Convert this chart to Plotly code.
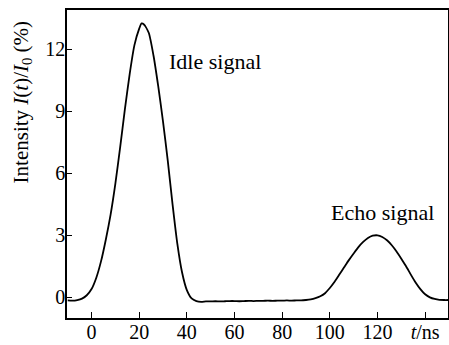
import plotly.graph_objects as go

# time axis (ns)
t_ns = [-10, -8, -6, -4, -2, 0, 2, 4, 6, 8, 10, 12, 14, 16, 18, 20, 21, 22, 24, 26, 28,
        30, 32, 34, 36, 38, 40, 42, 44, 46, 48, 50, 52, 54, 56, 58, 60, 62, 64, 66, 68,
        70, 72, 74, 76, 78, 80, 82, 84, 86, 88, 90, 92, 94, 96, 98, 100, 102, 104, 106,
        108, 110, 112, 114, 116, 118, 120, 122, 124, 126, 128, 130, 132, 134, 136, 138,
        140, 142, 144, 146, 148, 150]

# intensity I(t)/I0 (%)
intensity = [-0.15, -0.16, -0.13, -0.06, 0.1, 0.4, 0.95, 1.75, 2.8, 4.0, 5.5, 7.25, 9.1,
             10.8, 12.2, 13.0, 13.25, 13.2, 12.8, 11.7, 10.2,
             8.5, 6.6, 4.5, 2.6, 1.2, 0.35, -0.05, -0.18, -0.22, -0.2, -0.2, -0.19, -0.2,
             -0.19, -0.18, -0.18, -0.19, -0.18, -0.17, -0.18,
             -0.17, -0.17, -0.16, -0.17, -0.16, -0.16, -0.15, -0.16, -0.15, -0.15, -0.13,
             -0.1, -0.04, 0.05, 0.2, 0.45, 0.75, 1.1, 1.45,
             1.8, 2.12, 2.43, 2.68, 2.87, 2.98, 3.0, 2.92, 2.76, 2.52, 2.22, 1.87, 1.5, 1.1,
             0.72, 0.4,
             0.15, 0.0, -0.08, -0.12, -0.13, -0.13]

x_tickvals = [0, 20, 40, 60, 80, 100, 120, 140]
x_ticktext = ["0", "20", "40", "60", "80", "100", "120", "<i>t</i>/ns"]
y_tickvals = [0, 3, 6, 9, 12]
y_ticktext = ["0", "3", "6", "9", "12"]

FONT = "Liberation Serif"

fig = go.Figure()
fig.add_trace(go.Scatter(x=t_ns, y=intensity, mode="lines",
                         line=dict(color="black", width=1.8, shape="spline", smoothing=0.6),
                         showlegend=False, hoverinfo="skip"))

fig.add_annotation(x=31.7, y=11.4, xref="x", yref="y", text="Idle signal",
                   showarrow=False, xanchor="left", yanchor="middle",
                   font=dict(family=FONT, size=22, color="black"))
fig.add_annotation(x=99.7, y=4.1, xref="x", yref="y", text="Echo signal",
                   showarrow=False, xanchor="left", yanchor="middle",
                   font=dict(family=FONT, size=22, color="black"))
fig.add_annotation(x=-0.118, y=0.70, xref="paper", yref="paper",
                   text="Intensity <i>I</i>(<i>t</i>)/<i>I</i><sub>0</sub> (%)",
                   textangle=-90, showarrow=False, xanchor="center", yanchor="middle",
                   font=dict(family=FONT, size=21, color="black"))

fig.update_xaxes(range=[-10.3, 149.6], tickmode="array", tickvals=x_tickvals,
                 ticktext=x_ticktext, ticks="inside", ticklen=6, tickwidth=1.2,
                 tickcolor="black", showline=True, linecolor="black", linewidth=1.5,
                 mirror=True, showgrid=False, zeroline=False, automargin=False,
                 ticklabelstandoff=-5,
                 tickfont=dict(family=FONT, size=20, color="black"))
fig.update_yaxes(range=[-1.0, 13.9], tickmode="array", tickvals=y_tickvals,
                 ticktext=y_ticktext, ticks="inside", ticklen=5, tickwidth=1.2,
                 tickcolor="black", showline=True, linecolor="black", linewidth=1.5,
                 mirror=True, showgrid=False, zeroline=False, automargin=False,
                 ticklabelstandoff=-4,
                 tickfont=dict(family=FONT, size=20, color="black"))

fig.update_layout(width=449, height=345,
                  margin=dict(l=67, r=1, t=10, b=27, autoexpand=False),
                  plot_bgcolor="white", paper_bgcolor="white")

fig.write_html("out.html", config={"responsive": False, "displayModeBar": False},
               post_script="document.body.style.margin='0';"
                           "document.body.style.padding='0';"
                           "document.body.style.overflow='hidden';")
